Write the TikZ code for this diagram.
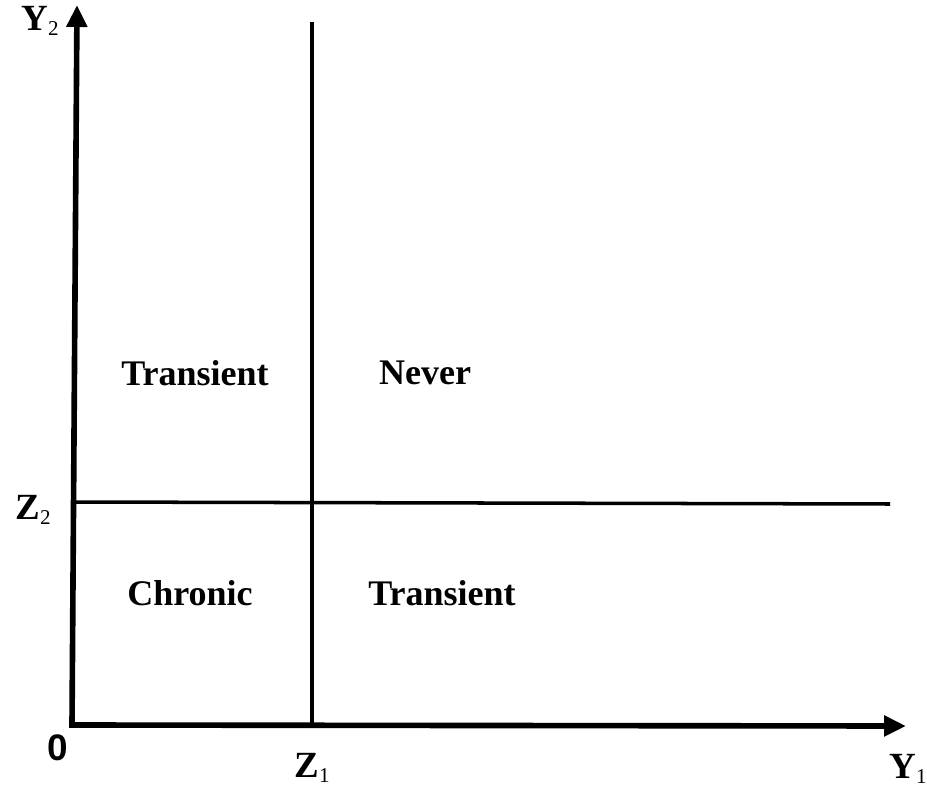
\documentclass[tikz,border=0pt]{standalone}
\usepackage{fontspec}
\setmainfont{Liberation Serif}
\newfontfamily\zerofont{Liberation Sans}
\usepackage{tikz}
\usetikzlibrary{arrows.meta}
\tikzset{axis/.style = {line width = 3.2pt, -{Triangle[length=0.44cm, width=0.4cm]}}}
\tikzset{cut/.style = {line width = 2pt}}
\tikzset{region/.style = {font = \fontsize{20.5}{22}\selectfont\bfseries}}
\tikzset{tick/.style = {font = \fontsize{21}{23}\selectfont, inner sep = 1pt}}
\newcommand{\lab}[2]{\textbf{#1}\raisebox{-0.3ex}{\fontsize{12}{12}\selectfont #2}}

\begin{document}
\begin{tikzpicture}
    \useasboundingbox (0, 0) rectangle (18.54, 15.78);

    \coordinate (O) at (1.44, 1.28);
    \coordinate (ytop) at (1.54, 15.68);
    \coordinate (xtip) at (18.12, 1.26);
    \coordinate (z1top) at (6.24, 15.34);
    \coordinate (z1bot) at (6.24, 1.30);
    \coordinate (z2left) at (1.5, 5.74);
    \coordinate (z2right) at (17.8, 5.70);

    \draw [cut] (z1bot) -- (z1top);
    \draw [cut] (z2left) -- (z2right);
    \draw [axis, line cap = rect] (O) -- (ytop);
    \draw [axis, line cap = rect] (O) -- (xtip);

    \node [tick] (y2) at (0.8, 15.36) {\lab{Y}{2}};
    \node [tick] (z2) at (0.66, 5.58) {\lab{Z}{2}};
    \node [tick] (zero) at (1.16, 0.82) {\zerofont\bfseries 0};
    \node [tick] (z1) at (6.24, 0.42) {\lab{Z}{1}};
    \node [tick] (y1) at (18.16, 0.40) {\lab{Y}{1}};

    \node [region] (transA) at (3.9, 8.32) {Transient};
    \node [region] (never) at (8.5, 8.32) {Never};
    \node [region] (chronic) at (3.8, 3.92) {Chronic};
    \node [region] (transB) at (8.84, 3.92) {Transient};
  \end{tikzpicture}
\end{document}
